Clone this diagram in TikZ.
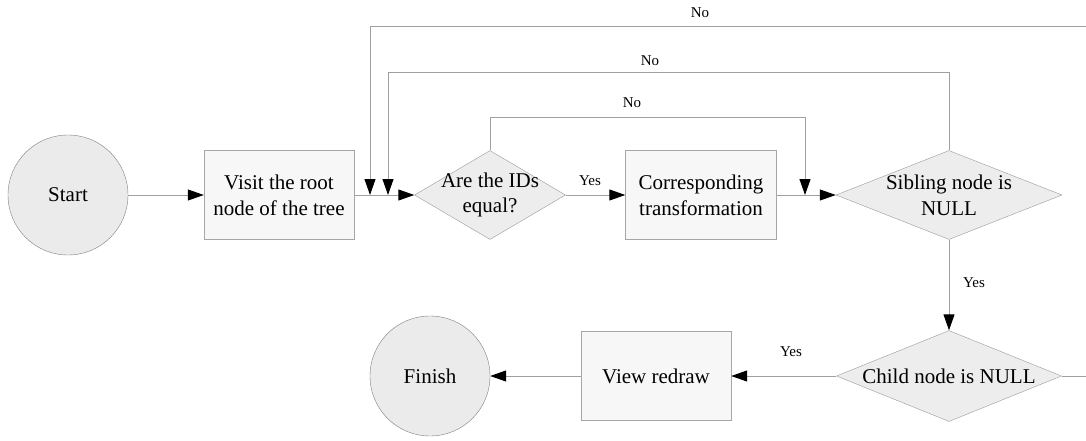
\documentclass[tikz,border=0pt]{standalone}
\usepackage{fontspec}
\setmainfont{Liberation Serif}
\usepackage{tikz}
\usetikzlibrary{arrows.meta,shapes.geometric}

\definecolor{termfill}{HTML}{EBEBEB}
\definecolor{termdraw}{HTML}{7F7F7F}
\definecolor{boxfill}{HTML}{F7F7F7}
\definecolor{boxdraw}{HTML}{A6A6A6}
\definecolor{decfill}{HTML}{EDEDED}
\definecolor{decdraw}{HTML}{9A9A9A}
\definecolor{linecol}{HTML}{A0A0A0}

\begin{document}
\begin{tikzpicture}[x=1pt,y=-1pt,
    term/.style={circle,minimum size=120pt,inner sep=0pt,fill=termfill,draw=termdraw,
        font=\fontsize{21}{25.7}\selectfont},
    proc/.style={rectangle,minimum width=150pt,minimum height=89pt,inner sep=0pt,
        fill=boxfill,draw=boxdraw,align=center,font=\fontsize{21}{25.7}\selectfont},
    decide/.style={diamond,inner xsep=-40pt,inner ysep=-20pt,minimum height=89pt,
        fill=decfill,draw=decdraw,align=center,font=\fontsize{21}{25.7}\selectfont},
    flow/.style={draw=linecol,line width=1pt},
    arr/.style={flow,-{Triangle[length=16pt,width=11pt,color=black]}},
    tag/.style={inner sep=0pt,font=\fontsize{15}{18}\selectfont}]
    \useasboundingbox (0,0) rectangle (1086,441);
    % nodes
    \node[term] (start) at (68,195) {Start};
    \node[proc] (visit) at (279,195) {Visit the root\\node of the tree};
    \node[decide,minimum width=151pt] (ids) at (490,195) {Are the IDs\\equal?};
    \node[proc,minimum width=151pt] (trans) at (701,195) {Corresponding\\transformation};
    \node[decide,minimum width=226pt] (sibling) at (949,195) {Sibling node is\\NULL};
    \node[decide,minimum width=225pt,minimum height=91pt] (child) at (949,376) {Child node is NULL};
    \node[proc] (redraw) at (656,376) {View redraw};
    \node[term] (finish) at (430,376) {Finish};
    % loop corners
    \coordinate (inTop) at (805,118);
    \coordinate (inEnd) at (805,195);
    \coordinate (midTop) at (388,73);
    \coordinate (midEnd) at (388,195);
    \coordinate (outTop) at (1086,27);
    \coordinate (outEnd) at (370,195);
    \coordinate (outRight) at (1086,376);
    % main flow
    \draw[arr] (start) -- (visit);
    \draw[arr] (visit) -- (ids);
    \draw[arr] (ids) -- (trans);
    \draw[arr] (trans) -- (sibling);
    \draw[arr] (sibling.south) -- (child.north);
    \draw[arr] (child) -- (redraw);
    \draw[arr] (redraw) -- (finish);
    \draw[flow] (child.east) -- (outRight);
    % back loops
    \draw[arr] (ids.north) |- (inTop) -- (inEnd);
    \draw[arr] (sibling.north) |- (midTop) -- (midEnd);
    \draw[arr] (outTop) -| (outEnd);
    % labels
    \node[tag] (yes1) at (590,181) {Yes};
    \node[tag] (yes2) at (974,283) {Yes};
    \node[tag] (yes3) at (791,352) {Yes};
    \node[tag] (no1) at (632,103) {No};
    \node[tag] (no2) at (650,61) {No};
    \node[tag] (no3) at (700,13) {No};
\end{tikzpicture}
\end{document}
